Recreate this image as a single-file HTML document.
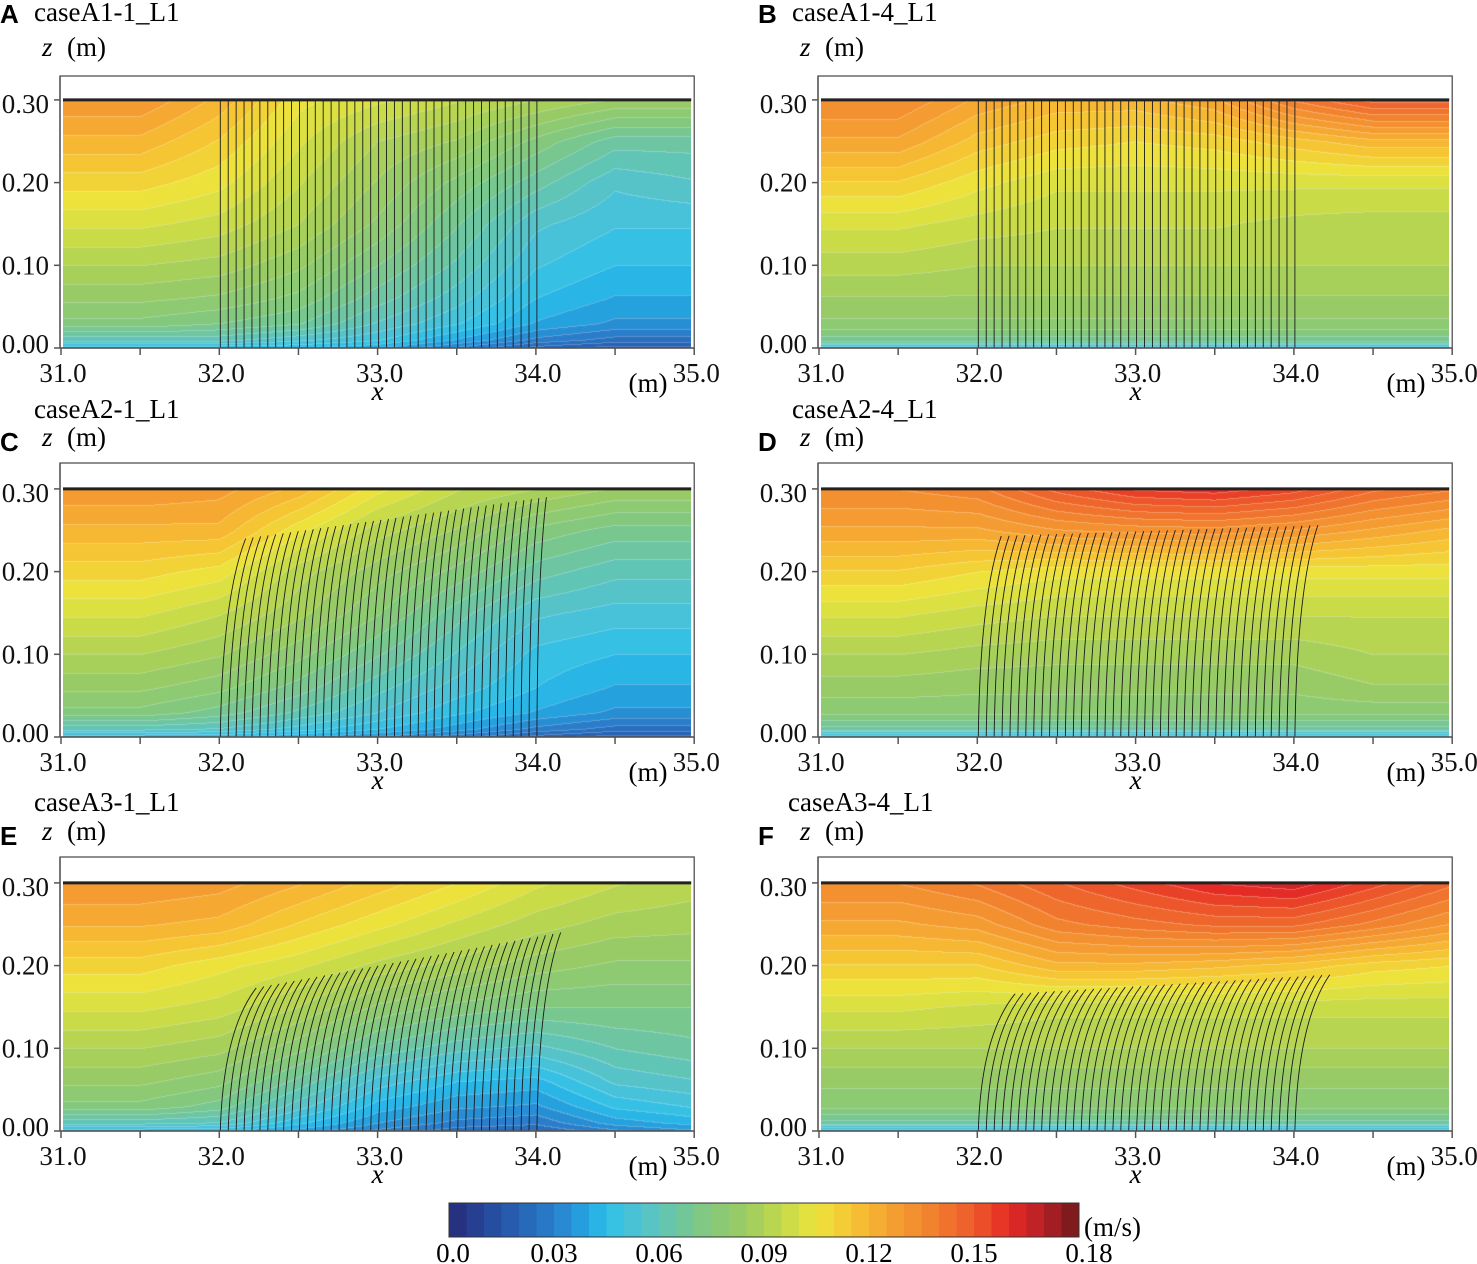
<!DOCTYPE html>
<html><head><meta charset="utf-8">
<style>
html,body{margin:0;padding:0;background:#fff;}
body{width:1477px;height:1264px;position:relative;overflow:hidden;font-family:"Liberation Serif",serif;}
canvas{position:absolute;}
#ov{position:absolute;left:0;top:0;}
</style></head>
<body>
<div id="wrap"></div>
<svg id="ov" width="1477" height="1264"></svg>
<script>
const xCols=[31,31.5,32,32.5,33,33.5,34,34.5,35];
const zRows=[0,0.01,0.03,0.06,0.1,0.15,0.2,0.25,0.3];
const fieldA=[
[0.045,0.045,0.045,0.045,0.04,0.03,0.02,0.015,0.015],
[0.06,0.06,0.06,0.055,0.05,0.04,0.03,0.025,0.025],
[0.075,0.075,0.072,0.068,0.058,0.05,0.04,0.035,0.035],
[0.082,0.082,0.08,0.075,0.065,0.056,0.045,0.04,0.04],
[0.09,0.09,0.088,0.082,0.072,0.062,0.05,0.045,0.045],
[0.1,0.1,0.097,0.09,0.08,0.068,0.055,0.05,0.05],
[0.11,0.11,0.105,0.095,0.085,0.075,0.065,0.055,0.058],
[0.12,0.12,0.112,0.1,0.09,0.085,0.075,0.065,0.065],
[0.13,0.13,0.12,0.105,0.1,0.095,0.09,0.085,0.085]];
const fieldB=[
[0.05,0.05,0.05,0.05,0.05,0.05,0.05,0.05,0.05],
[0.07,0.07,0.07,0.07,0.07,0.07,0.07,0.07,0.07],
[0.08,0.08,0.08,0.08,0.08,0.08,0.08,0.08,0.08],
[0.085,0.085,0.085,0.085,0.085,0.085,0.085,0.085,0.085],
[0.092,0.092,0.09,0.09,0.09,0.09,0.09,0.09,0.09],
[0.1,0.1,0.097,0.095,0.095,0.095,0.093,0.092,0.092],
[0.112,0.112,0.105,0.1,0.1,0.1,0.1,0.1,0.1],
[0.125,0.125,0.115,0.11,0.108,0.11,0.115,0.12,0.12],
[0.135,0.135,0.125,0.12,0.12,0.125,0.14,0.15,0.15]];
const fieldC=[
[0.045,0.045,0.045,0.04,0.035,0.028,0.02,0.015,0.015],
[0.06,0.06,0.058,0.052,0.045,0.038,0.03,0.025,0.025],
[0.075,0.075,0.07,0.062,0.054,0.046,0.04,0.035,0.035],
[0.082,0.082,0.078,0.07,0.06,0.052,0.045,0.04,0.04],
[0.09,0.09,0.086,0.078,0.068,0.058,0.048,0.045,0.045],
[0.1,0.1,0.095,0.087,0.077,0.065,0.055,0.052,0.052],
[0.11,0.11,0.106,0.092,0.083,0.075,0.065,0.06,0.06],
[0.12,0.12,0.12,0.105,0.092,0.085,0.075,0.07,0.07],
[0.13,0.13,0.128,0.12,0.105,0.095,0.09,0.085,0.085]];
const fieldD=[
[0.045,0.045,0.045,0.045,0.045,0.045,0.045,0.045,0.045],
[0.065,0.065,0.065,0.065,0.065,0.065,0.065,0.065,0.065],
[0.078,0.078,0.078,0.078,0.078,0.078,0.078,0.078,0.078],
[0.083,0.083,0.082,0.082,0.082,0.082,0.082,0.085,0.085],
[0.09,0.09,0.088,0.087,0.087,0.087,0.087,0.09,0.09],
[0.1,0.1,0.097,0.095,0.095,0.095,0.095,0.095,0.095],
[0.112,0.112,0.108,0.105,0.105,0.105,0.105,0.105,0.105],
[0.125,0.125,0.125,0.13,0.132,0.133,0.13,0.125,0.12],
[0.135,0.135,0.138,0.15,0.158,0.16,0.155,0.145,0.14]];
const fieldE=[
[0.045,0.045,0.045,0.038,0.03,0.024,0.022,0.03,0.035],
[0.06,0.06,0.058,0.046,0.036,0.03,0.028,0.038,0.042],
[0.075,0.075,0.07,0.056,0.043,0.037,0.035,0.046,0.05],
[0.082,0.082,0.078,0.066,0.052,0.045,0.043,0.055,0.058],
[0.09,0.09,0.087,0.078,0.066,0.06,0.057,0.063,0.066],
[0.1,0.1,0.097,0.09,0.08,0.075,0.072,0.072,0.072],
[0.11,0.11,0.105,0.1,0.093,0.088,0.083,0.08,0.08],
[0.122,0.122,0.12,0.112,0.105,0.098,0.092,0.088,0.087],
[0.13,0.13,0.128,0.122,0.115,0.108,0.1,0.095,0.092]];
const fieldF=[
[0.045,0.045,0.045,0.045,0.045,0.045,0.045,0.045,0.045],
[0.065,0.065,0.065,0.065,0.065,0.065,0.065,0.065,0.065],
[0.078,0.078,0.078,0.078,0.078,0.078,0.078,0.078,0.078],
[0.082,0.082,0.082,0.082,0.082,0.082,0.082,0.082,0.082],
[0.09,0.09,0.09,0.09,0.09,0.09,0.09,0.09,0.09],
[0.1,0.1,0.098,0.096,0.096,0.096,0.096,0.096,0.096],
[0.112,0.112,0.112,0.12,0.12,0.118,0.115,0.11,0.108],
[0.125,0.125,0.128,0.138,0.142,0.145,0.145,0.138,0.13],
[0.135,0.135,0.14,0.148,0.155,0.162,0.165,0.155,0.145]];
const panelLetters=["A","B","C","D","E","F"];
const panelCases=["caseA1-1_L1","caseA1-4_L1","caseA2-1_L1","caseA2-4_L1","caseA3-1_L1","caseA3-4_L1"];
const stemBaseRange=[32.0,34.0];
const stemCount=41;
const canopyTopFirst=[0.3,0.3,0.24,0.243,0.173,0.166];
const canopyTopLast=[0.3,0.3,0.29,0.256,0.24,0.189];
const bendFirst=[0,0,0.16,0.145,0.227,0.233];
const bendLast=[0,0,0.06,0.145,0.15,0.22];
const xTicks=[31,31.5,32,32.5,33,33.5,34,34.5,35];
const xTickLabels=["31.0","32.0","33.0","34.0","35.0"];
const zTicks=[0,0.1,0.2,0.3];
const zTickLabels=["0.00","0.10","0.20","0.30"];
const cbTicks=[0,0.03,0.06,0.09,0.12,0.15,0.18];
const cbTickLabels=["0.0","0.03","0.06","0.09","0.12","0.15","0.18"];

const fields=[fieldA,fieldB,fieldC,fieldD,fieldE,fieldF];
const cmapV=[0,0.015,0.03,0.04,0.045,0.055,0.065,0.075,0.085,0.095,0.105,0.115,0.125,0.135,0.15,0.16,0.17,0.18];
const cmapC=["#262a78","#2554a8","#2a7fcc","#24a8e2","#2ec0ea","#53c3cf","#6cc6a2","#86c87a","#9ccc62","#c3d94a","#ece43c","#f6c433","#f5a532","#f28a2f","#ed5a2a","#e52a25","#b41f25","#6e1a1a"];
function hex(c){return [parseInt(c.slice(1,3),16),parseInt(c.slice(3,5),16),parseInt(c.slice(5,7),16)];}
const cmapRGB=cmapC.map(hex);
function cmap(v){
  if(v<=cmapV[0])return cmapRGB[0];
  for(let i=1;i<cmapV.length;i++){if(v<=cmapV[i]){const t=(v-cmapV[i-1])/(cmapV[i]-cmapV[i-1]);const a=cmapRGB[i-1],b=cmapRGB[i];return [a[0]+(b[0]-a[0])*t,a[1]+(b[1]-a[1])*t,a[2]+(b[2]-a[2])*t];}}
  return cmapRGB[cmapRGB.length-1];
}
function interp(arr,v){
  if(v<=arr[0])return [0,0];
  for(let i=1;i<arr.length;i++){if(v<=arr[i])return [i-1,(v-arr[i-1])/(arr[i]-arr[i-1])];}
  return [arr.length-2,1];
}
function sample(f,x,z){
  const [i,tx]=interp(xCols,x),[j,tz]=interp(zRows,z);
  const a=f[j][i],b=f[j][i+1],c=f[j+1][i],d=f[j+1][i+1];
  return (a*(1-tx)+b*tx)*(1-tz)+(c*(1-tx)+d*tx)*tz;
}
const NS="http://www.w3.org/2000/svg";
const svg=document.getElementById('ov');
function el(tag,attrs,parent){const e=document.createElementNS(NS,tag);for(const k in attrs)e.setAttribute(k,attrs[k]);(parent||svg).appendChild(e);return e;}
function txt(s,x,y,attrs,parent){const t=el('text',Object.assign({x:x,y:y},attrs),parent);t.textContent=s;return t;}

const colLeft=[61,819];
const rowAxis=[348,737,1131];
const rowFrame=[76,463,857];
const XS=158.3, ZS=827;
const FS=27;
const zLabelShift=[-4,0,0,4];
const wrap=document.getElementById('wrap');
for(let p=0;p<6;p++){
  const c=p%2,r=Math.floor(p/2);
  const L=colLeft[c],AY=rowAxis[r],FT=rowFrame[r];
  const px=x=>L+(x-31)*XS;
  const pz=z=>AY-z*ZS;
  const g=el('g',{});
  
  
  const x0=Math.round(px(31))+2,x1=Math.round(px(35))-3,y0=Math.round(pz(0.3)),y1=AY;
  const cv=document.createElement('canvas');
  cv.width=x1-x0;cv.height=y1-y0;cv.style.left=x0+'px';cv.style.top=y0+'px';
  
  
  wrap.appendChild(cv);
  const ctx=cv.getContext('2d');const img=ctx.createImageData(cv.width,cv.height);
  const f=fields[p];const step=0.0045;
  const W=cv.width,H=cv.height;
  const lv=new Int16Array(W*H);
  for(let yy=0;yy<H;yy++){
    const z=(AY-(y0+yy+0.5))/ZS;
    for(let xx=0;xx<W;xx++){
      const x=31+(x0+xx+0.5-L)/XS;
      lv[yy*W+xx]=Math.floor(sample(f,x,z)/step);
    }
  }
  for(let yy=0;yy<H;yy++){
    for(let xx=0;xx<W;xx++){
      const l=lv[yy*W+xx];
      const col=cmap((l+0.5)*step);
      let edge=(yy>0&&lv[(yy-1)*W+xx]!==l)||(xx>0&&lv[yy*W+xx-1]!==l);
      const k=(yy*W+xx)*4;
      const m=edge?0.25:0;
      img.data[k]=col[0]+(255-col[0])*m;img.data[k+1]=col[1]+(255-col[1])*m;img.data[k+2]=col[2]+(255-col[2])*m;img.data[k+3]=255;
    }
  }
  ctx.putImageData(img,0,0);
  const fr=el('rect',{x:L-1,y:FT,width:px(35)-L+1,height:AY-FT,fill:'none',stroke:'#444','stroke-width':1.2},g);
  
  
  const sg=el('g',{stroke:'#1a1a1a','stroke-width':0.9,fill:'none'},g);
  
  
  for(let s=0;s<stemCount;s++){
    const t=s/(stemCount-1);
    const xb=stemBaseRange[0]+(stemBaseRange[1]-stemBaseRange[0])*t;
    const zt=canopyTopFirst[p]+(canopyTopLast[p]-canopyTopFirst[p])*t;
    const dx=bendFirst[p]+(bendLast[p]-bendFirst[p])*t;
    const pth=el('path',{d:`M${px(xb)+1},${pz(0)} Q${px(xb+dx*0.08)+1},${pz(zt*0.7)} ${px(xb+dx)+1},${pz(zt)}`},sg);
    
    
  }
  const wl=el('line',{x1:L+2,x2:px(35)-3,y1:pz(0.3),y2:pz(0.3),stroke:'#222','stroke-width':3},g);
  
  
  const ax=el('g',{stroke:'#555','stroke-width':1.5},g);
  
  
  el('line',{x1:L-1,x2:L-1,y1:FT,y2:AY},ax);
  el('line',{x1:L-1,x2:px(35),y1:AY,y2:AY},ax);
  xTicks.forEach(v=>el('line',{x1:px(v),x2:px(v),y1:AY,y2:AY+7},ax));
  zTicks.forEach(v=>el('line',{x1:L-7,x2:L-1,y1:pz(v),y2:pz(v)},ax));
  xTickLabels.forEach((s,i)=>{const t=txt(s,px(31+i)+2,AY+34,{'font-size':FS,'text-anchor':'middle',fill:'#111'},g);
    
    });
  zTickLabels.forEach((s,i)=>{const t=txt(s,L-12,pz(zTicks[i])+9+zLabelShift[i],{'font-size':FS,'text-anchor':'end',fill:'#111'},g);
    
    });
  const xt=txt('x',px(33),AY+52,{'font-size':FS,'font-style':'italic','text-anchor':'middle'},g);
  
  
  const mt=txt('(m)',L+587,AY+44,{'font-size':FS,'text-anchor':'middle'},g);
  
  
  const zY=[56,446,840][r];
  const zt=txt('z',L-19,zY,{'font-size':FS,'font-style':'italic'},g);
  
  
  const zu=txt('(m)',L+6,zY,{'font-size':FS},g);
  
  
  const caseY=[21,418,811][r];
  const ct=txt(panelCases[p],L-27-(p==5?4:0),caseY,{'font-size':FS},g);
  
  
  const letY=[23,451,845][r];
  const lt=txt(panelLetters[p],L-61,letY,{'font-size':26,'font-weight':'bold','font-family':'Liberation Sans, sans-serif'},g);
  
  
}
const cb=el('g',{});


const CL=449,CR=1079,CT=1203,CB=1237;
const cbx=v=>CL+(v/0.18)*(CR-CL);
const nb=36;
for(let i=0;i<nb;i++){
  const v=(i+0.5)*0.18/nb;const col=cmap(v);
  const rc=el('rect',{x:cbx(i*0.18/nb),y:CT,width:(CR-CL)/nb+0.5,height:CB-CT,fill:`rgb(${col.map(Math.round).join(',')})`},cb);
  
  
}
el('rect',{x:CL,y:CT,width:CR-CL,height:CB-CT,fill:'none',stroke:'#333','stroke-width':1},cb);
cbTickLabels.forEach((s,i)=>{const t=txt(s,cbx(cbTicks[i])+(i==0?4:i==6?10:0),1262,{'font-size':FS,'text-anchor':'middle'},cb);
  
  });
const un=txt('(m/s)',1084,1236,{'font-size':FS},cb);


</script>
</body></html>
